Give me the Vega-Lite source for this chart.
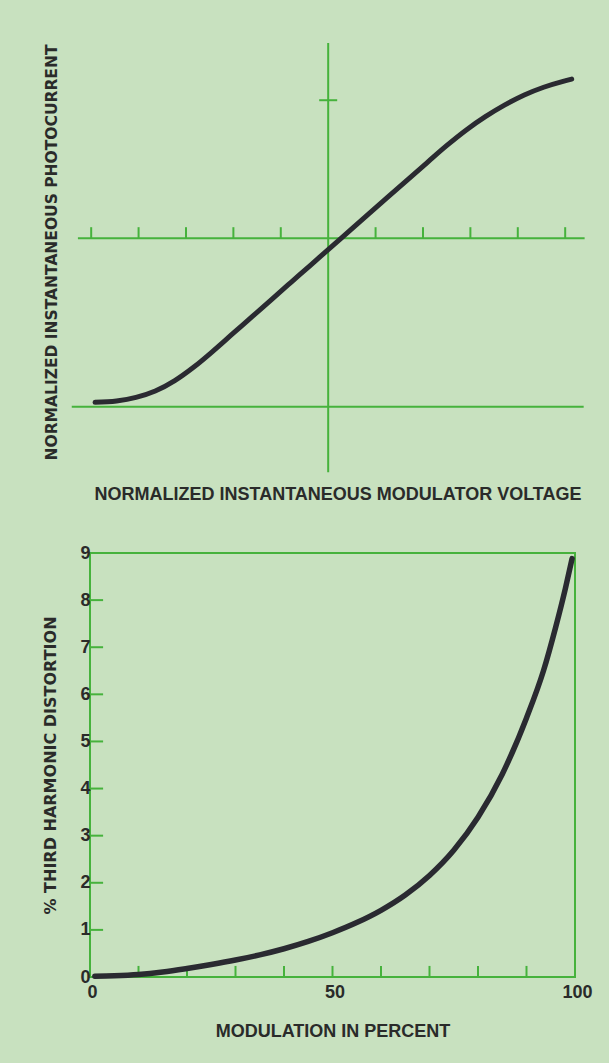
{
  "$schema": "https://vega.github.io/schema/vega-lite/v6.json",
  "background": "#c8e1bf",
  "padding": {"left": 41, "top": 32, "right": 18, "bottom": 22},
  "spacing": 81,
  "bounds": "flush",
  "config": {
    "view": {"stroke": null},
    "axis": {
      "grid": false,
      "domain": false,
      "ticks": false,
      "labelColor": "#2a2b2a",
      "titleColor": "#2a2b2a",
      "labelFont": "Liberation Sans",
      "labelFontWeight": "bold",
      "labelFontSize": 18,
      "titleFontWeight": "bold"
    }
  },
  "datasets": {
    "one": [{}],
    "photo": [
      {"v": -4.918, "i": 0.026}, {"v": -4.466, "i": 0.034}, {"v": -4.055, "i": 0.055},
      {"v": -3.648, "i": 0.093}, {"v": -3.236, "i": 0.155}, {"v": -2.827, "i": 0.237},
      {"v": -2.418, "i": 0.333}, {"v": -2.008, "i": 0.435}, {"v": -1.599, "i": 0.536},
      {"v": -1.19, "i": 0.638}, {"v": -0.778, "i": 0.74}, {"v": -0.369, "i": 0.841},
      {"v": 0, "i": 0.933}, {"v": 0.449, "i": 1.044}, {"v": 0.861, "i": 1.146},
      {"v": 1.268, "i": 1.247}, {"v": 1.679, "i": 1.349}, {"v": 2.089, "i": 1.45},
      {"v": 2.498, "i": 1.55}, {"v": 2.907, "i": 1.642}, {"v": 3.316, "i": 1.722},
      {"v": 3.728, "i": 1.792}, {"v": 4.137, "i": 1.851}, {"v": 4.546, "i": 1.897},
      {"v": 4.956, "i": 1.932}, {"v": 5.137, "i": 1.945}
    ],
    "vticks": [
      {"v": -5}, {"v": -4}, {"v": -3}, {"v": -2}, {"v": -1},
      {"v": 1}, {"v": 2}, {"v": 3}, {"v": 4}, {"v": 5}
    ],
    "distortion": [
      {"m": 1, "d": 0.015}, {"m": 5, "d": 0.025}, {"m": 10, "d": 0.052}, {"m": 15, "d": 0.105},
      {"m": 20, "d": 0.18}, {"m": 25, "d": 0.265}, {"m": 30, "d": 0.36}, {"m": 35, "d": 0.47},
      {"m": 40, "d": 0.6}, {"m": 45, "d": 0.755}, {"m": 50, "d": 0.94}, {"m": 55, "d": 1.155},
      {"m": 60, "d": 1.415}, {"m": 65, "d": 1.74}, {"m": 70, "d": 2.155}, {"m": 75, "d": 2.69},
      {"m": 80, "d": 3.39}, {"m": 85, "d": 4.305}, {"m": 90, "d": 5.5}, {"m": 93.5, "d": 6.5},
      {"m": 96, "d": 7.42}, {"m": 98, "d": 8.24}, {"m": 99.4, "d": 8.88}
    ],
    "mticks": [
      {"m": 10}, {"m": 20}, {"m": 30}, {"m": 40}, {"m": 50},
      {"m": 60}, {"m": 70}, {"m": 80}, {"m": 90}
    ],
    "dticks": [
      {"d": 1}, {"d": 2}, {"d": 3}, {"d": 4}, {"d": 5}, {"d": 6}, {"d": 7}, {"d": 8}
    ]
  },
  "vconcat": [
    {
      "width": 495,
      "height": 440,
      "layer": [
        {
          "data": {"name": "one"},
          "mark": {"type": "rule", "color": "#46b23c", "strokeWidth": 2},
          "encoding": {
            "x": {"datum": 0, "type": "quantitative", "title": "NORMALIZED INSTANTANEOUS MODULATOR VOLTAGE",
                  "scale": {"domain": [-5.025, 5.418], "nice": false, "zero": false},
                  "axis": {"labels": false, "titleFont": "Liberation Sans", "titleFontSize": 18, "titlePadding": 13}},
            "y": {"datum": 2.16, "type": "quantitative", "title": "NORMALIZED INSTANTANEOUS PHOTOCURRENT",
                  "scale": {"domain": [-0.3878, 2.2251], "nice": false, "zero": false},
                  "axis": {"labels": false, "titleFont": "DejaVu Sans", "titleFontSize": 15.5, "titlePadding": 31}},
            "y2": {"datum": -0.39}
          }
        },
        {
          "data": {"name": "one"},
          "mark": {"type": "rule", "color": "#46b23c", "strokeWidth": 2},
          "encoding": {
            "x": {"datum": -5.28, "type": "quantitative", "title": "NORMALIZED INSTANTANEOUS MODULATOR VOLTAGE"},
            "x2": {"datum": 5.41},
            "y": {"datum": 1, "type": "quantitative", "title": "NORMALIZED INSTANTANEOUS PHOTOCURRENT"}
          }
        },
        {
          "data": {"name": "one"},
          "mark": {"type": "rule", "color": "#46b23c", "strokeWidth": 2},
          "encoding": {
            "x": {"datum": -5.41, "type": "quantitative", "title": "NORMALIZED INSTANTANEOUS MODULATOR VOLTAGE"},
            "x2": {"datum": 5.39},
            "y": {"datum": 0, "type": "quantitative", "title": "NORMALIZED INSTANTANEOUS PHOTOCURRENT"}
          }
        },
        {
          "data": {"name": "one"},
          "mark": {"type": "rule", "color": "#46b23c", "strokeWidth": 2},
          "encoding": {
            "x": {"datum": -0.19, "type": "quantitative", "title": "NORMALIZED INSTANTANEOUS MODULATOR VOLTAGE"},
            "x2": {"datum": 0.19},
            "y": {"datum": 1.82, "type": "quantitative", "title": "NORMALIZED INSTANTANEOUS PHOTOCURRENT"}
          }
        },
        {
          "data": {"name": "vticks"},
          "mark": {"type": "rule", "color": "#46b23c", "strokeWidth": 2},
          "encoding": {
            "x": {"field": "v", "type": "quantitative", "title": "NORMALIZED INSTANTANEOUS MODULATOR VOLTAGE"},
            "y": {"datum": 1, "type": "quantitative", "title": "NORMALIZED INSTANTANEOUS PHOTOCURRENT"},
            "y2": {"datum": 1.066}
          }
        },
        {
          "data": {"name": "photo"},
          "mark": {"type": "line", "color": "#2a2a31", "strokeWidth": 5, "strokeCap": "round", "interpolate": "monotone"},
          "encoding": {
            "x": {"field": "v", "type": "quantitative", "title": "NORMALIZED INSTANTANEOUS MODULATOR VOLTAGE"},
            "y": {"field": "i", "type": "quantitative", "title": "NORMALIZED INSTANTANEOUS PHOTOCURRENT"}
          }
        }
      ]
    },
    {
      "width": 485,
      "height": 424,
      "view": {"stroke": "#46b23c", "strokeWidth": 2},
      "layer": [
        {
          "data": {"name": "mticks"},
          "mark": {"type": "rule", "color": "#46b23c", "strokeWidth": 2},
          "encoding": {
            "x": {"field": "m", "type": "quantitative", "title": "MODULATION IN PERCENT",
                  "scale": {"domain": [0, 100], "nice": false},
                  "axis": {"values": [0, 50, 100], "labelFlush": false, "labelPadding": 6, "labelOffset": 2,
                           "titleFont": "Liberation Sans", "titleFontSize": 18, "titlePadding": 21}},
            "y": {"datum": 0, "type": "quantitative", "title": "% THIRD HARMONIC DISTORTION",
                  "scale": {"domain": [0, 9], "nice": false},
                  "axis": {"values": [0, 1, 2, 3, 4, 5, 6, 7, 8, 9], "labelFlush": false, "labelPadding": 0,
                           "titleFont": "DejaVu Sans", "titleFontSize": 16, "titlePadding": 21}},
            "y2": {"datum": 0.235}
          }
        },
        {
          "data": {"name": "dticks"},
          "mark": {"type": "rule", "color": "#46b23c", "strokeWidth": 2},
          "encoding": {
            "y": {"field": "d", "type": "quantitative", "title": "% THIRD HARMONIC DISTORTION"},
            "x": {"datum": 0, "type": "quantitative", "title": "MODULATION IN PERCENT"},
            "x2": {"datum": 2.7}
          }
        },
        {
          "data": {"name": "distortion"},
          "mark": {"type": "line", "color": "#2a2a31", "strokeWidth": 5.5, "strokeCap": "round", "interpolate": "monotone"},
          "encoding": {
            "x": {"field": "m", "type": "quantitative", "title": "MODULATION IN PERCENT"},
            "y": {"field": "d", "type": "quantitative", "title": "% THIRD HARMONIC DISTORTION"}
          }
        }
      ]
    }
  ]
}
